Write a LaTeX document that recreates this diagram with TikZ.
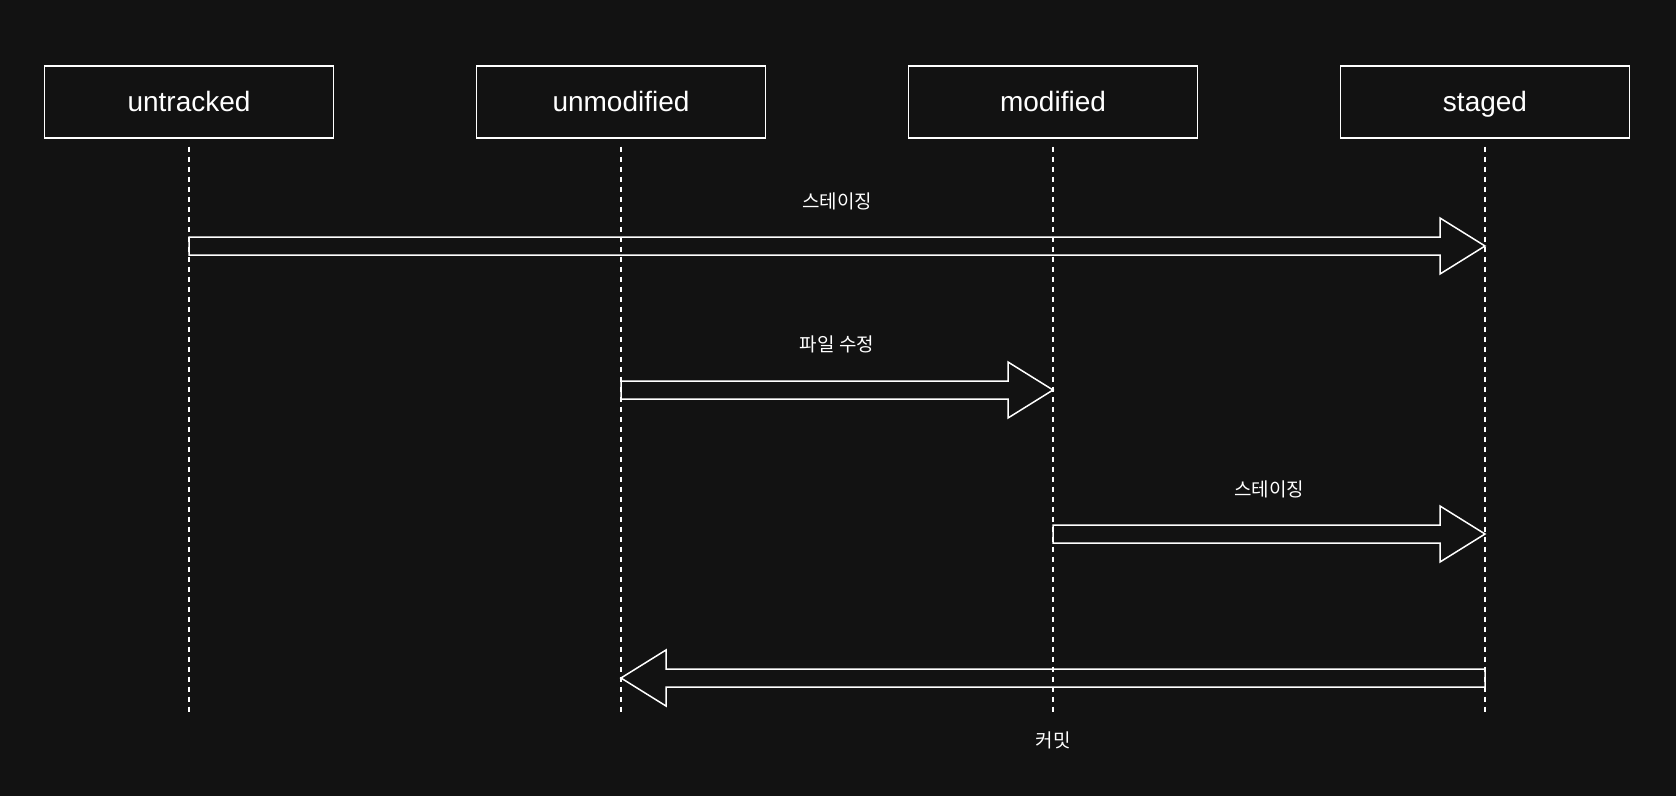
\documentclass[tikz,border=0pt]{standalone}
\usepackage{fontspec}
\setmainfont{Liberation Sans}
\newfontfamily\kofont{Noto Sans CJK KR}
\usetikzlibrary{calc}
\definecolor{bgdark}{RGB}{18,18,18}

% hollow block arrow from (#1) to (#2)
\newcommand{\blockarrow}[2]{%
  \draw[bigarrow] let \p1=(#1), \p2=(#2), \n1={sign(\x2-\x1)} in
    (\x1,\y1+9pt) -- ({\x2-\n1*45pt},\y1+9pt) -- ({\x2-\n1*45pt},\y1+28pt)
    -- (\x2,\y1) -- ({\x2-\n1*45pt},\y1-28pt) -- ({\x2-\n1*45pt},\y1-9pt)
    -- (\x1,\y1-9pt) -- cycle;}

\begin{document}
\begin{tikzpicture}[
    x=1pt, y=-1pt,
    % State box style
    statebox/.style={
        rectangle,
        draw=white,
        fill=bgdark,
        line width=1.4pt,
        minimum width=289pt,
        minimum height=72pt,
        inner sep=0pt,
        text height=21pt,
        text depth=3pt,
        text=white,
        font=\fontsize{28}{32}\selectfont
    },
    lifeline/.style={
        draw=white,
        line width=1.6pt,
        dash pattern=on 5pt off 5pt
    },
    bigarrow/.style={
        draw=white,
        line width=1.5pt,
        line join=miter
    },
    msglabel/.style={
        text=white,
        inner sep=0pt,
        font=\kofont\fontsize{19}{22}\selectfont
    }
]

% === Background ===
\fill[bgdark] (0,0) rectangle (1676,796);
\useasboundingbox (0,0) rectangle (1676,796);

% === States ===
\node[statebox] (untracked) at (189, 102) {untracked};
\node[statebox] (unmodified) at (621, 102) {unmodified};
\node[statebox] (modified) at (1053, 102) {modified};
\node[statebox] (staged) at (1485, 102) {staged};

% === Lifelines ===
\foreach \s in {untracked, unmodified, modified, staged} {
    \coordinate (\s-top) at ($(\s.south)+(0,8)$);
    \coordinate (\s-end) at (\s |- 0,714);
    \draw[lifeline] (\s-top) -- (\s-end);
}

% === Row 1: untracked -> staged ===
\coordinate (a1s) at (untracked |- 0,246);
\coordinate (a1e) at (staged |- 0,246);
\blockarrow{a1s}{a1e}
\node[msglabel] (lab1) at ($(a1s)!0.5!(a1e)+(0,-45)$) {스테이징};

% === Row 2: unmodified -> modified ===
\coordinate (a2s) at (unmodified |- 0,390);
\coordinate (a2e) at (modified |- 0,390);
\blockarrow{a2s}{a2e}
\node[msglabel] (lab2) at ($(a2s)!0.5!(a2e)+(0,-46)$) {파일 수정};

% === Row 3: modified -> staged ===
\coordinate (a3s) at (modified |- 0,534);
\coordinate (a3e) at (staged |- 0,534);
\blockarrow{a3s}{a3e}
\node[msglabel] (lab3) at ($(a3s)!0.5!(a3e)+(0,-45)$) {스테이징};

% === Row 4: staged -> unmodified ===
\coordinate (a4s) at (staged |- 0,678);
\coordinate (a4e) at (unmodified |- 0,678);
\blockarrow{a4s}{a4e}
\node[msglabel] (lab4) at ($(a4s)!0.5!(a4e)+(0,62)$) {커밋};

\end{tikzpicture}
\end{document}
